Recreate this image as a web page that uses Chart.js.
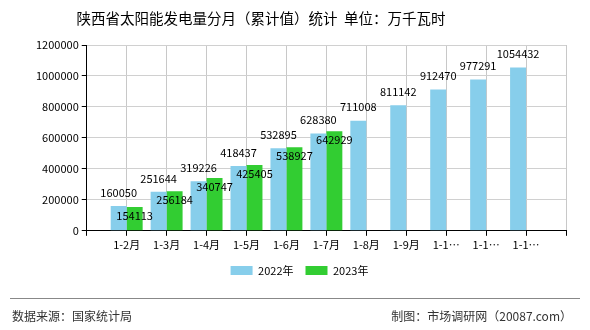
<!DOCTYPE html>
<html><head><meta charset="utf-8">
<script src="https://cdn.jsdelivr.net/npm/chart.js@4/dist/chart.umd.min.js"></script>
<style>html,body{margin:0;padding:0;background:#fff;}canvas{display:block;}</style>
</head><body>
<canvas id="c" width="590" height="330"></canvas>
<script>
const categories = ["1-2月","1-3月","1-4月","1-5月","1-6月","1-7月","1-8月","1-9月","1-10月","1-11月","1-12月"];
const series2022 = [160050,251644,319226,418437,532895,628380,711008,811142,912470,977291,1054432];
const series2023 = [154113,256184,340747,425405,538927,642929,null,null,null,null,null];
const yTicks = [0,200000,400000,600000,800000,1000000,1200000];
const FONT = "'Noto Sans CJK SC', 'DejaVu Sans', sans-serif";

// axis has an empty slot at each end so categories sit on grid lines
const axisLabels = [""].concat(categories, [""]);
const pad = (arr) => [null].concat(arr, [null]);

const extras = {
  id: 'extras',
  afterDatasetsDraw(chart) {
    const ctx = chart.ctx;
    ctx.save();
    ctx.font = "11px " + FONT;
    ctx.fillStyle = "#000";
    ctx.textAlign = "center";
    chart.data.datasets.forEach((ds, di) => {
      const meta = chart.getDatasetMeta(di);
      meta.data.forEach((el, i) => {
        const v = ds.data[i];
        if (v == null) return;
        if (di === 0) { ctx.textBaseline = "bottom"; ctx.fillText(String(v), el.x, el.y - 8); }
        else { ctx.textBaseline = "top"; ctx.fillText(String(v), el.x, el.y + 3); }
      });
    });
    ctx.restore();
  },
  afterDraw(chart) {
    const ctx = chart.ctx;
    ctx.save();
    ctx.fillStyle = "#000";
    ctx.font = "14.5px " + FONT;
    ctx.textAlign = "center"; ctx.textBaseline = "middle";
    ctx.fillText("陕西省太阳能发电量分月（累计值）统计  单位：万千瓦时", 261, 18);
    ctx.strokeStyle = "#888"; ctx.lineWidth = 1;
    ctx.beginPath(); ctx.moveTo(10, 298.5); ctx.lineTo(580, 298.5); ctx.stroke();
    ctx.font = "12px " + FONT;
    ctx.fillStyle = "#333";
    ctx.textAlign = "left"; ctx.fillText("数据来源：国家统计局", 12, 316);
    ctx.textAlign = "right"; ctx.fillText("制图：市场调研网（20087.com）", 572, 316);
    ctx.restore();
  }
};

new Chart(document.getElementById('c'), {
  type: 'bar',
  data: {
    labels: axisLabels,
    datasets: [
      { label: '2022年', data: pad(series2022), backgroundColor: '#87CEEB' },
      { label: '2023年', data: pad(series2023), backgroundColor: '#32CD32' }
    ]
  },
  options: {
    responsive: false,
    animation: false,
    devicePixelRatio: 1,
    layout: { padding: { left: 33, right: 24, top: 45, bottom: 44 } },
    datasets: { bar: { categoryPercentage: 0.8, barPercentage: 1.0 } },
    plugins: {
      title: { display: false },
      tooltip: { enabled: false },
      legend: {
        position: 'bottom',
        labels: { boxWidth: 22, boxHeight: 9, font: { size: 11, family: FONT }, color: '#000', padding: 12 }
      }
    },
    scales: {
      x: {
        offset: false,
        grid: { display: true, offset: false, color: '#c8c8c8', lineWidth: 1, tickColor: '#000', tickLength: 5, drawOnChartArea: true },
        border: { color: '#000', display: true },
        ticks: {
          color: '#000', font: { size: 11, family: FONT }, maxRotation: 0, autoSkip: false, padding: 2,
          callback: function(v, i) { const s = axisLabels[i]; return s.length > 4 ? s.slice(0, 3) + '…' : s; }
        }
      },
      y: {
        min: 0, max: 1200000,
        afterBuildTicks: (axis) => { axis.ticks = yTicks.map(v => ({ value: v })); },
        grid: { color: '#d0d0d0', tickColor: '#000', tickLength: 5 },
        border: { color: '#000' },
        ticks: { color: '#000', font: { size: 11, family: FONT }, padding: 3, callback: (v) => String(v) }
      }
    }
  },
  plugins: [extras]
});
</script>
</body></html>
